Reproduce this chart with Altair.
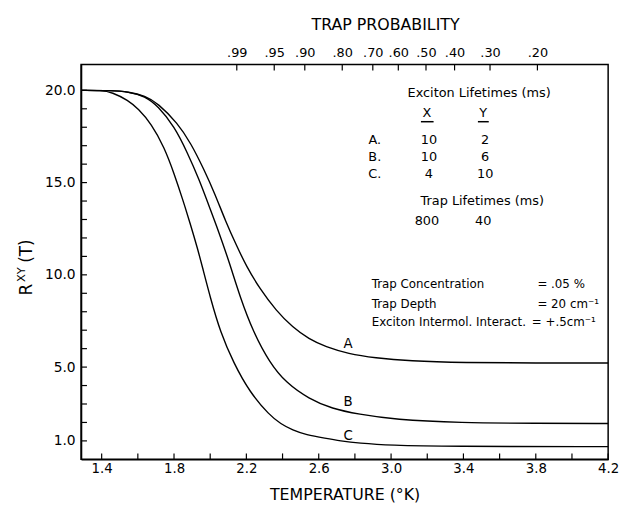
import altair as alt
import pandas as pd

# ---------------- data ----------------
X_MIN, X_MAX = 1.286, 4.2
Y_MIN, Y_MAX = 0.0, 21.4

T_A = [1.286, 1.45, 1.55, 1.64, 1.711, 1.82, 1.892, 1.965, 2.028, 2.083, 2.147, 2.201, 2.274, 2.365, 2.456, 2.546, 2.637, 2.764, 2.91, 3.1, 3.4, 3.8, 4.2]
R_A = [20.0, 20.0, 19.92, 19.7, 19.3, 18.22, 17.15, 15.73, 14.35, 12.95, 11.55, 10.45, 9.25, 8.05, 7.15, 6.52, 6.1, 5.72, 5.5, 5.33, 5.24, 5.22, 5.22]

T_B = [1.286, 1.45, 1.55, 1.64, 1.711, 1.802, 1.874, 1.938, 1.992, 2.047, 2.11, 2.165, 2.238, 2.328, 2.419, 2.546, 2.674, 2.819, 3.02, 3.38, 3.8, 4.2]
R_B = [20.0, 20.0, 19.92, 19.68, 19.15, 18.04, 16.62, 15.19, 13.77, 12.35, 10.55, 8.8, 6.9, 5.25, 4.15, 3.28, 2.74, 2.45, 2.15, 1.98, 1.95, 1.94]

T_C = [1.286, 1.40, 1.456, 1.547, 1.602, 1.674, 1.747, 1.802, 1.847, 1.892, 1.929, 1.955, 2.001, 2.056, 2.129, 2.219, 2.328, 2.39, 2.456, 2.53, 2.637, 2.72, 2.819, 3.0, 3.3, 4.2]
R_C = [20.0, 20.0, 19.9, 19.46, 19.0, 18.2, 16.9, 15.45, 14.12, 12.7, 11.46, 10.5, 8.75, 6.9, 5.23, 3.63, 2.39, 1.92, 1.58, 1.33, 1.14, 1.0, 0.88, 0.76, 0.70, 0.69]

SERIES = ["A", "B", "C"]
LABEL_T = [2.762, 2.762, 2.762]
LABEL_R = [6.23, 3.08, 1.26]

X_TICKS = [1.4, 1.6, 1.8, 2.0, 2.2, 2.4, 2.6, 2.8, 3.0, 3.2, 3.4, 3.6, 3.8, 4.0, 4.2]
X_LABELED = [14, 18, 22, 26, 30, 34, 38, 42]  # tenths
Y_TICKS = list(range(1, 21))
Y_LABELED = [1, 5, 10, 15, 20]

TP_LABELS = [".99", ".95", ".90", ".80", ".70", ".60", ".50", ".40", ".30", ".20"]
TP_T = [2.147, 2.354, 2.523, 2.730, 2.899, 3.040, 3.193, 3.351, 3.547, 3.809]

# annotation texts (positions in data units)
ANN_TEXT = ["Exciton Lifetimes  (ms)", "X", "Y",
            "A.", "10", "2",
            "B.", "10", "6",
            "C.", "4", "10",
            "Trap Lifetimes (ms)", "800", "40"]
ANN_T = [3.487, 3.198, 3.509,
         2.91, 3.209, 3.52,
         2.91, 3.209, 3.52,
         2.91, 3.209, 3.52,
         3.504, 3.198, 3.509]
ANN_R = [19.88, 18.76, 18.76,
         17.32, 17.32, 17.32,
         16.41, 16.41, 16.41,
         15.46, 15.46, 15.46,
         14.02, 12.90, 12.90]

PARAM_NAMES = ["Trap Concentration", "Trap Depth", "Exciton Intermol. Interact."]
PARAM_VALUES = ["= .05 %", "= 20 cm⁻¹", "= +.5cm⁻¹"]
PARAM_VALUE_T = [3.809, 3.809, 3.778]
PARAM_NAME_T = [2.893, 2.893, 2.893]
PARAM_R = [9.48, 8.42, 7.45]

UL_T1 = [3.165, 3.480]
UL_T2 = [3.235, 3.540]
UL_R = [18.30, 18.30]

# y-axis title pieces: R, superscript XY, (T)
YT_TEXT = ["R", "XY", "(T)"]

# ---------------- build tables ----------------
rows = []
for s, ts, rs in zip(SERIES, [T_A, T_B, T_C], [R_A, R_B, R_C]):
    for i, (t, r) in enumerate(zip(ts, rs)):
        rows.append({"series": s, "t": t, "v": r, "order": i})
lines_df = pd.DataFrame(rows)
labels_df = pd.DataFrame({"text": SERIES, "t": LABEL_T, "v": LABEL_R})
ann_df = pd.DataFrame({"text": ANN_TEXT, "t": ANN_T, "v": ANN_R})
pname_df = pd.DataFrame({"text": PARAM_NAMES, "t": PARAM_NAME_T, "v": PARAM_R})
pval_df = pd.DataFrame({"text": PARAM_VALUES, "t": PARAM_VALUE_T, "v": PARAM_R})
ul_df = pd.DataFrame({"t": UL_T1, "t2": UL_T2, "v": UL_R})
tp_df = pd.DataFrame({"tp": TP_T, "label": TP_LABELS})
xt_df = pd.DataFrame({"t": X_TICKS})
yt_df = pd.DataFrame({"v": Y_TICKS})

FONT = "DejaVu Sans"
INK = "black"
W, H = 534, 400
TICK = 6

xscale = alt.Scale(domain=[X_MIN, X_MAX], nice=False, zero=False)
yscale = alt.Scale(domain=[Y_MIN, Y_MAX], nice=False, zero=False)

x_label_expr = "indexof(%s, round(datum.value*10)) >= 0 ? format(datum.value, '.1f') : ''" % str(X_LABELED)
y_label_expr = "indexof(%s, datum.value) >= 0 ? format(datum.value, '.1f') : ''" % str(Y_LABELED)

x_axis = alt.Axis(values=X_TICKS, labelExpr=x_label_expr, title="TEMPERATURE (°K)",
                  ticks=False, labelPadding=2, grid=False, labelFontSize=13.5, labelFlush=False,
                  titleX=267, titleY=36, titleBaseline="middle", titleAlign="center")
y_axis = alt.Axis(values=Y_TICKS, labelExpr=y_label_expr, title=None,
                  ticks=False, labelPadding=6, grid=False, labelFontSize=14, labelFlush=False)

X = alt.X("t:Q", scale=xscale, axis=x_axis)
Y = alt.Y("v:Q", scale=yscale, axis=y_axis)

lines = alt.Chart(lines_df).mark_line(color=INK, strokeWidth=1.4, interpolate="basis").encode(
    x=X, y=Y, detail="series:N", order="order:Q")

curve_labels = alt.Chart(labels_df).mark_text(fontSize=13.5, font=FONT, color=INK, align="center", baseline="middle").encode(
    x=X, y=Y, text="text:N")

ann = alt.Chart(ann_df).mark_text(fontSize=13, font=FONT, color=INK, align="center", baseline="middle").encode(
    x=X, y=Y, text="text:N")

pnames = alt.Chart(pname_df).mark_text(fontSize=12, font=FONT, color=INK, align="left", baseline="middle").encode(
    x=X, y=Y, text="text:N")

pvals = alt.Chart(pval_df).mark_text(fontSize=12, font=FONT, color=INK, align="left", baseline="middle").encode(
    x=X, y=Y, text="text:N")

ul = alt.Chart(ul_df).mark_rule(color=INK, strokeWidth=1.5).encode(
    x=X, x2="t2:Q", y=Y)

# inward-pointing ticks
xticks = alt.Chart(xt_df).mark_rule(color=INK, strokeWidth=1.2).encode(
    x=X, y=alt.value(H), y2=alt.value(H - TICK))
yticks = alt.Chart(yt_df).mark_rule(color=INK, strokeWidth=1.2).encode(
    y=Y, x=alt.value(0), x2=alt.value(TICK))

# y-axis title composed of pieces (superscript XY)
yt_R = alt.Chart(pd.DataFrame({"s": [YT_TEXT[0]]})).mark_text(
    angle=270, fontSize=17, font=FONT, color=INK, align="center", baseline="middle").encode(
    text="s:N", x=alt.value(-55), y=alt.value(228))
yt_XY = alt.Chart(pd.DataFrame({"s": [YT_TEXT[1]]})).mark_text(
    angle=270, fontSize=11.5, font=FONT, color=INK, align="center", baseline="middle").encode(
    text="s:N", x=alt.value(-60), y=alt.value(213))
yt_T = alt.Chart(pd.DataFrame({"s": [YT_TEXT[2]]})).mark_text(
    angle=270, fontSize=17, font=FONT, color=INK, align="center", baseline="middle").encode(
    text="s:N", x=alt.value(-55), y=alt.value(189))

base = alt.layer(lines, curve_labels, ann, pnames, pvals, ul, xticks, yticks, yt_R, yt_XY, yt_T)

mids = [(a + b) / 2 for a, b in zip(TP_T[:-1], TP_T[1:])]
expr = "'%s'" % TP_LABELS[-1]
for m, lab in reversed(list(zip(mids, TP_LABELS[:-1]))):
    expr = "datum.value < %.4f ? '%s' : (%s)" % (m, lab, expr)
tp_label_expr = expr

top_axis = alt.Axis(orient="top", values=TP_T, labelExpr=tp_label_expr, title="TRAP PROBABILITY",
                    ticks=False, labelPadding=5, grid=False, domain=False, labelFontSize=13, labelFlush=False,
                    titleX=308, titleY=-40, titleBaseline="middle", titleAlign="center")

top = alt.Chart(tp_df).mark_rule(color=INK, strokeWidth=1.2).encode(
    x=alt.X("tp:Q", scale=xscale, axis=top_axis),
    y=alt.value(0), y2=alt.value(TICK))

chart = alt.layer(base, top).resolve_scale(x="independent").properties(
    width=W, height=H,
    padding={"left": 74, "top": 54, "right": 11, "bottom": 43},
    autosize=alt.AutoSizeParams(type="none"),
).configure(font=FONT).configure_view(
    stroke=INK, strokeWidth=1.5
).configure_axis(
    domainColor=INK, domainWidth=1.5,
    labelColor=INK, titleColor=INK, labelFont=FONT, titleFont=FONT,
    titleFontSize=16, titleFontWeight="normal",
)

chart.save("out.html", embed_options={"renderer": "svg", "actions": False})
